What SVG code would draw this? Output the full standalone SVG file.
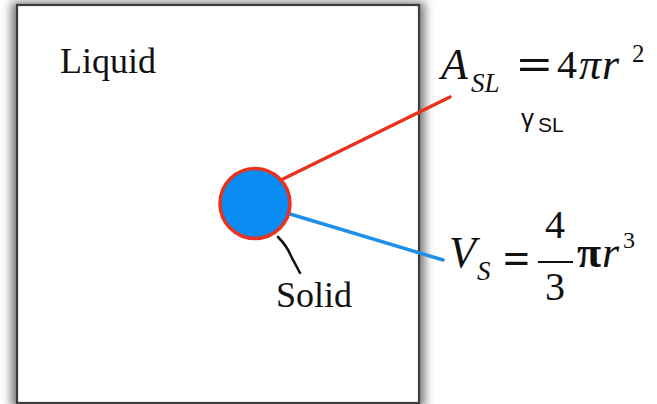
<svg xmlns="http://www.w3.org/2000/svg" width="657" height="404" viewBox="0 0 657 404">
  <defs>
    <filter id="shadow" x="-10%" y="-10%" width="120%" height="120%">
      <feGaussianBlur stdDeviation="5"/>
    </filter>
    <style>
      .serif { font-family: "Liberation Serif", "Times New Roman", serif; fill: #111; }
      .it { font-style: italic; }
      .sans { font-family: "Liberation Sans", Arial, sans-serif; fill: #111; }
      .conn { fill: none; stroke-linecap: round; }
    </style>
  </defs>
  <rect width="657" height="404" fill="#ffffff"/>

  <g id="liquid">
    <rect x="11" y="2" width="414" height="406" fill="#7a7a7a" filter="url(#shadow)"/>
    <rect x="17" y="5" width="402" height="398" fill="#ffffff" stroke="#3c3c3c" stroke-width="2.2"/>
    <text class="serif" x="60" y="73" font-size="36">Liquid</text>
  </g>

  <g id="connectors">
    <line class="conn" x1="283" y1="179" x2="450" y2="97" stroke="#e8321e" stroke-width="3.5"/>
    <line class="conn" x1="290" y1="214" x2="443" y2="260" stroke="#1e90e8" stroke-width="3.5"/>
    <path class="conn" d="M278 237 Q287 246 291 256 L300 273" stroke="#111" stroke-width="2.5"/>
  </g>

  <g id="solid">
    <circle cx="255" cy="203.5" r="35" fill="#0a8cf2" stroke="#e8321e" stroke-width="3.5"/>
    <text class="serif" x="276" y="307" font-size="36">Solid</text>
  </g>

  <g id="area-eq">
    <text class="serif it" x="441" y="79" font-size="44">A</text>
    <text class="serif it" x="471" y="92" font-size="27">SL</text>
    <text class="serif" x="517" y="79" font-size="44" textLength="35" lengthAdjust="spacingAndGlyphs" font-weight="bold">=</text>
    <text class="serif" x="557" y="78" font-size="40">4</text>
    <text class="serif it" x="579" y="79" font-size="44">π</text>
    <text class="serif it" x="602" y="79" font-size="44">r</text>
    <text class="serif" x="632" y="62" font-size="25">2</text>
  </g>

  <g id="gamma-label">
    <text class="sans" x="521" y="127" font-size="26">γ</text>
    <text class="sans" x="538" y="132" font-size="21">SL</text>
  </g>

  <g id="volume-eq">
    <text class="serif it" x="449" y="267" font-size="44">V</text>
    <text class="serif it" x="477" y="280" font-size="27">S</text>
    <text class="serif" x="503" y="273" font-size="44" textLength="27" lengthAdjust="spacingAndGlyphs" font-weight="bold">=</text>
    <text class="serif" x="545" y="238" font-size="40">4</text>
    <line x1="538" y1="262" x2="573" y2="262" stroke="#111" stroke-width="2"/>
    <text class="serif" x="545" y="300" font-size="40">3</text>
    <text class="serif" x="577" y="267" font-size="44" font-weight="bold">π</text>
    <text class="serif it" x="602" y="267" font-size="44">r</text>
    <text class="serif" x="623" y="248" font-size="24">3</text>
  </g>
</svg>
